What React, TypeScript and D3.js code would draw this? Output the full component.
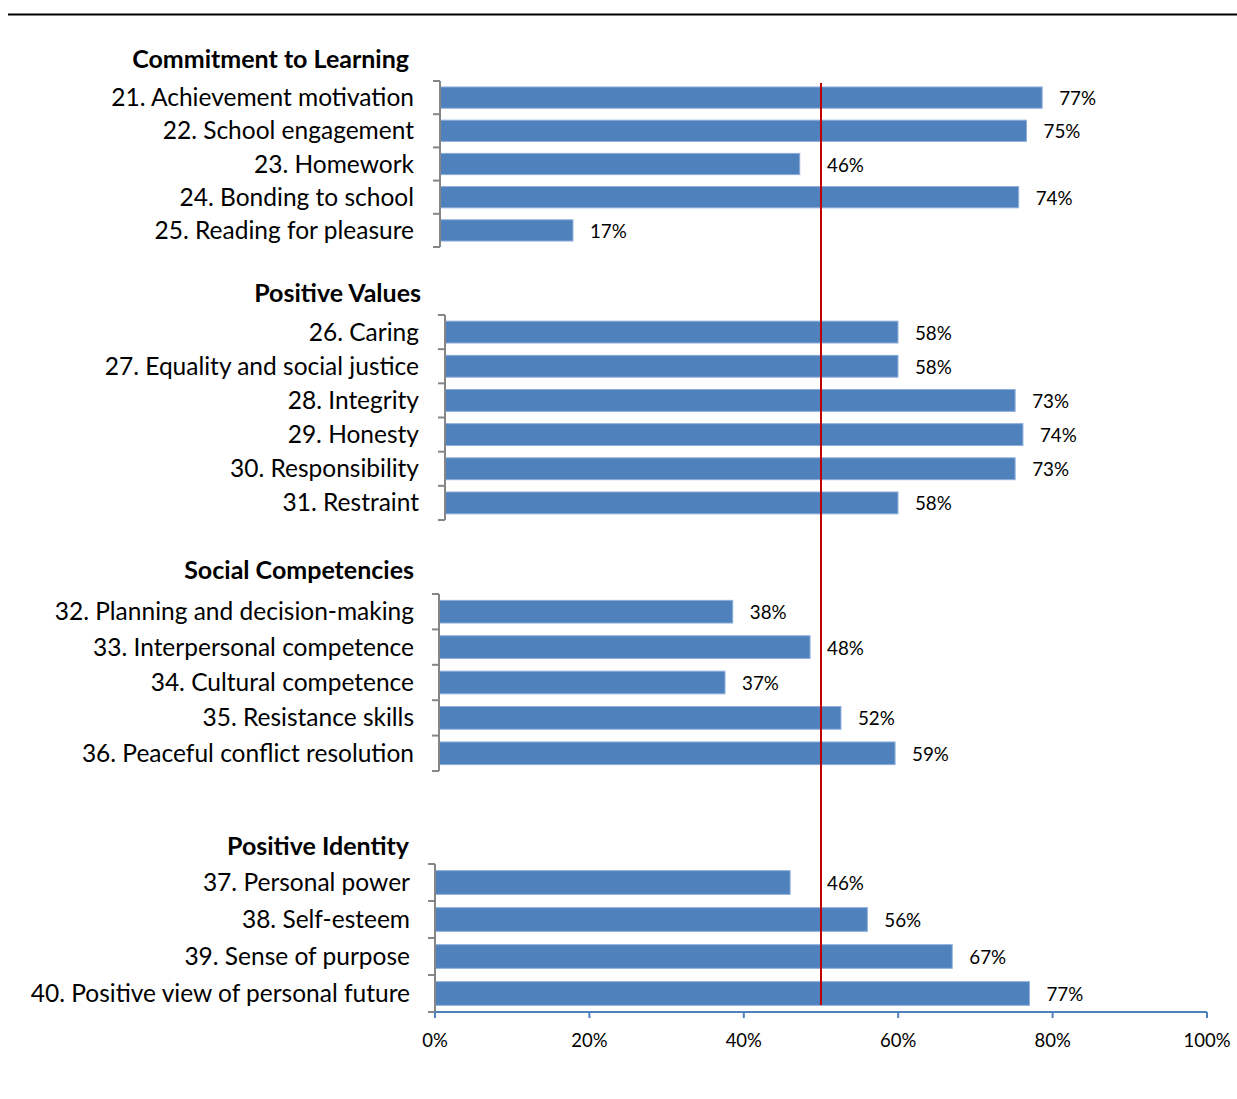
import React from "react";
import * as d3 from "d3";

const groupTitles = ["Commitment to Learning", "Positive Values", "Social Competencies", "Positive Identity"];

const learningLabels = ["21. Achievement motivation", "22. School engagement", "23. Homework", "24. Bonding to school", "25. Reading for pleasure"];
const learningValues = [77, 75, 46, 74, 17];

const valuesLabels = ["26. Caring", "27. Equality and social justice", "28. Integrity", "29. Honesty", "30. Responsibility", "31. Restraint"];
const valuesValues = [58, 58, 73, 74, 73, 58];

const socialLabels = ["32. Planning and decision-making", "33. Interpersonal competence", "34. Cultural competence", "35. Resistance skills", "36. Peaceful conflict resolution"];
const socialValues = [38, 48, 37, 52, 59];

const identityLabels = ["37. Personal power", "38. Self-esteem", "39. Sense of purpose", "40. Positive view of personal future"];
const identityValues = [46, 56, 67, 77];

const xTicks = [0, 20, 40, 60, 80, 100];
const referenceValue = 50;

const groups = [
  { labels: learningLabels, values: learningValues },
  { labels: valuesLabels, values: valuesValues },
  { labels: socialLabels, values: socialValues },
  { labels: identityLabels, values: identityValues },
];

// layout per panel
const layout = [
  { x0: 440, w: 782, top: 81, bottom: 247, titleY: 58, titleRight: 409, labelRight: 414 },
  { x0: 445, w: 781, top: 315, bottom: 520, titleY: 292, titleRight: 421, labelRight: 419 },
  { x0: 439, w: 773, top: 594, bottom: 771, titleY: 569, titleRight: 414, labelRight: 414 },
  { x0: 435, w: 772, top: 864, bottom: 1012, titleY: 845, titleRight: 409, labelRight: 410 },
];

const FONT = "Lato, 'Open Sans', sans-serif";
const BAR = "#4F81BD";
const BAR_EDGE = "#8EAEDA";
const AXIS_GREY = "#868686";
const VAL_FS = 18.8;
const VAL_W = 36;

export default function App() {
  const bottom = layout[3];
  const xBottom = d3.scaleLinear().domain([0, 100]).range([bottom.x0, bottom.x0 + bottom.w]);
  const refX = xBottom(referenceValue);

  return (
    <svg width={1237} height={1099} style={{ position: "absolute", left: 0, top: 0, background: "#fff" }} fontFamily={FONT}>
      <rect width={1237} height={1099} fill="#fff" />
      <line x1={8} x2={1237} y1={14.5} y2={14.5} stroke="#000" strokeWidth={2} />
      {groups.map((g, gi) => {
        const L = layout[gi];
        const x = d3.scaleLinear().domain([0, 100]).range([L.x0, L.x0 + L.w]);
        const y = d3.scaleBand<string>().domain(g.labels).range([L.top, L.bottom]).paddingInner(0.36).paddingOuter(0.18);
        const boundaries = d3.range(g.labels.length + 1).map((i) => L.top + ((L.bottom - L.top) * i) / g.labels.length);
        return (
          <g key={gi}>
            <text x={L.titleRight} y={L.titleY} textAnchor="end" dominantBaseline="central" fontWeight="bold" fontSize={25} fill="#000">
              {groupTitles[gi]}
            </text>
            {g.labels.map((lab, i) => {
              const cy = L.top + ((L.bottom - L.top) * (i + 0.5)) / g.labels.length;
              const by = y(lab)!;
              let lx = x(g.values[i]) + 17;
              if (lx < refX + 6 && lx + VAL_W > refX) lx = refX + 6;
              return (
                <g key={lab}>
                  <text x={L.labelRight} y={cy - 1} textAnchor="end" dominantBaseline="central" fontSize={24.5} fill="#000">
                    {lab}
                  </text>
                  <rect x={x(0)} y={by} width={x(g.values[i]) - x(0)} height={y.bandwidth()} fill={BAR} stroke={BAR_EDGE} strokeWidth={1} />
                  <text x={lx} y={cy} dominantBaseline="central" fontSize={VAL_FS} fill="#000">
                    {g.values[i]}%
                  </text>
                </g>
              );
            })}
            <line x1={L.x0} x2={L.x0} y1={L.top} y2={L.bottom} stroke={AXIS_GREY} strokeWidth={2} />
            {boundaries.map((b, i) => (
              <line key={i} x1={L.x0 - 7} x2={L.x0} y1={b} y2={b} stroke={AXIS_GREY} strokeWidth={2} />
            ))}
          </g>
        );
      })}
      {/* bottom axis */}
      <line x1={xBottom(0)} x2={xBottom(100)} y1={1012} y2={1012} stroke={BAR} strokeWidth={2} />
      {xTicks.map((t) => (
        <g key={t}>
          <line x1={xBottom(t)} x2={xBottom(t)} y1={1012} y2={1018} stroke={BAR} strokeWidth={2} />
          <text x={xBottom(t)} y={1040} textAnchor="middle" dominantBaseline="central" fontSize={18.5} fill="#000">
            {t}%
          </text>
        </g>
      ))}
      <line x1={refX} x2={refX} y1={83} y2={1005} stroke="#C00000" strokeWidth={2} />
    </svg>
  );
}
